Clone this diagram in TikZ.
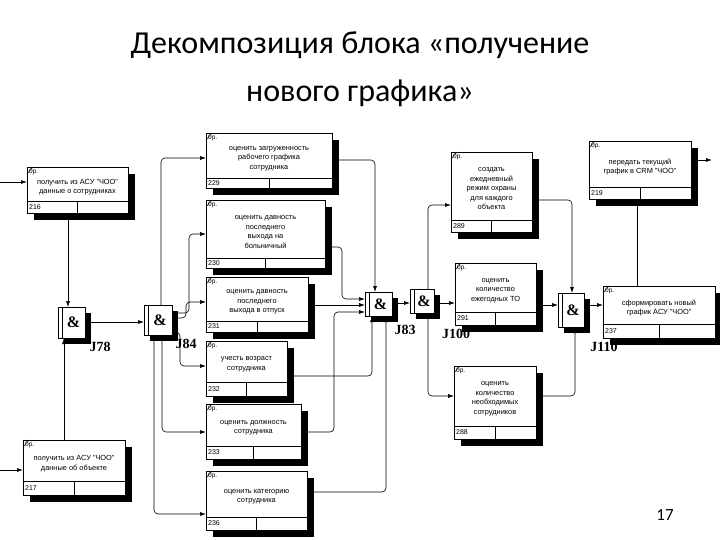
\documentclass[tikz,border=0pt]{standalone}
\usepackage{fontspec}
\setmainfont{Liberation Sans}
\newfontfamily\ttl{Carlito}
\newfontfamily\srf{Liberation Serif}
\usetikzlibrary{arrows.meta}
\newcommand\blk[8]{%
 \fill (#2+7,#3+7) rectangle (#4+7,#5+7);
 \node[draw,fill=white,line width=0.9pt,inner sep=0pt,minimum width={(#4-#2)*1pt},minimum height={(#5-#3)*1pt},anchor=north west] (#1) at (#2,#3) {};
 \draw[line width=0.6pt] (#2,#6) -- (#4,#6) ({(#2+#4)/2},#6) -- ({(#2+#4)/2},#5);
 \node[font=\fontsize{7}{8}\selectfont,anchor=west,inner sep=1pt] at (#2+1,{(#5+#6)/2}) {#8};
 \node[font=\fontsize{6.5}{7}\selectfont,anchor=north west,inner sep=1pt] at (#2+1,#3+1) {0р.};
 \draw[line width=0.5pt] (#2,#3+7) -- (#2+6,#3);
 \node[font=\fontsize{7.4}{9.5}\selectfont,align=center,inner sep=0pt] at ({(#2+#4)/2},{(#3+#6)/2+3}) {#7};}
\newcommand\jnc[5]{%
 \fill (#2+6,#3+6) rectangle (#4+6,#5+6);
 \node[draw,fill=white,line width=0.9pt,inner sep=0pt,minimum width={(#4-#2)*1pt},minimum height={(#5-#3)*1pt},anchor=north west] (#1) at (#2,#3) {};
 \draw[line width=0.6pt] (#2+4,#3) -- (#2+4,#5);
 \node[font=\srf\bfseries\fontsize{16}{16}\selectfont] at ({(#2+#4)/2+2},{(#3+#5)/2}) {\&};}
\tikzset{ar/.style={-{Latex[length=6pt,width=4pt]},line width=0.6pt,rounded corners=4pt},
 ln/.style={line width=0.6pt,rounded corners=4pt},
 jl/.style={font=\srf\bfseries\fontsize{14}{14}\selectfont}}
\begin{document}
\begin{tikzpicture}[x=1pt,y=-1pt]
\useasboundingbox (0,0) rectangle (720,540);
\node[font=\ttl\fontsize{32}{48}\selectfont,align=center] (title) at (360,69) {Декомпозиция блока «получение\\нового графика»};
\node[font=\ttl\fontsize{17}{17}\selectfont] (pg) at (665,515) {17};
\blk{b216}{27}{167}{128}{213}{201}{получить из АСУ "ЧОО"\\данные о сотрудниках}{216}
\blk{b217}{23}{440}{125}{495}{481}{получить из АСУ "ЧОО"\\данные об объекте}{217}
\blk{b229}{206}{133}{332}{188}{178}{оценить загруженность\\рабочего графика\\сотрудника}{229}
\blk{b230}{206}{200}{325}{268}{258}{оценить давность\\последнего\\выхода на\\больничный}{230}
\blk{b231}{206}{277}{308}{332}{321}{оценить давность\\последнего\\выхода в отпуск}{231}
\blk{b232}{206}{341}{287}{396}{382}{учесть возраст\\сотрудника}{232}
\blk{b233}{206}{404}{301}{459}{446}{оценить должность\\сотрудника}{233}
\blk{b236}{206}{471}{307}{530}{517}{оценить категорию\\сотрудника}{236}
\blk{b289}{451}{152}{532}{232}{220}{создать\\ежедневный\\режим охраны\\для каждого\\объекта}{289}
\blk{b291}{455}{263}{536}{325}{312}{оценить\\количество\\ежегодных ТО}{291}
\blk{b288}{454}{366}{536}{439}{426}{оценить\\количество\\необходимых\\сотрудников}{288}
\blk{b219}{589}{141}{691}{199}{187}{передать текущий\\график в CRM "ЧОО"}{219}
\blk{b237}{603}{286}{715}{338}{324}{сформировать новый\\график АСУ "ЧОО"}{237}
\jnc{j78}{58}{307}{85}{338}
\jnc{j84}{144}{305}{172}{335}
\jnc{j83}{365}{292}{392}{316}
\jnc{j100}{410}{289}{434}{313}
\jnc{j110}{558}{293}{584}{327}
\node[jl] (l78) at (100,347) {J78};
\node[jl] (l84) at (186,344) {J84};
\node[jl] (l83) at (405,330) {J83};
\node[jl] (l100) at (456,334) {J100};
\node[jl] (l110) at (604,347) {J110};
\coordinate (in1) at (0,182); \coordinate (in2) at (0,470); \coordinate (out1) at (712,160);
\draw[ar] (in1) -- (b216.west |- in1);
\draw[ar] (in2) -- (b217.west |- in2);
\draw[ar] (68,213) -- (68,307);
\draw[ar] (64,440) -- (64,338);
\draw[ar] (j78.east |- 0,322) -- (j84.west |- 0,322);
\draw[ar] (161,305) -- (161,158) -- (b229.west |- 0,158);
\draw[ar] (172,313) -- (189,313) -- (189,234) -- (b230.west |- 0,234);
\draw[ar] (172,318) -- (186,318) -- (186,302) -- (b231.west |- 0,302);
\draw[ar] (172,332) -- (180,332) -- (180,366) -- (b232.west |- 0,366);
\draw[ar] (162,335) -- (162,432) -- (b233.west |- 0,432);
\draw[ar] (154,335) -- (154,514) -- (b236.west |- 0,514);
\draw[ar] (b229.east |- 0,160) -- (375,160) -- (375,292);
\draw[ar] (b230.east |- 0,247) -- (342,247) -- (342,299) -- (j83.west |- 0,299);
\draw[ar] (b231.east |- 0,305) -- (j83.west |- 0,305);
\draw[ar] (b233.east |- 0,432) -- (334,432) -- (334,312) -- (j83.west |- 0,312);
\draw[ar] (b232.east |- 0,376) -- (372,376) -- (372,316);
\draw[ar] (b236.east |- 0,492) -- (386,492) -- (386,316);
\draw[ar] (j83.east |- 0,303) -- (j100.west |- 0,303);
\draw[ar] (428,289) -- (428,205) -- (b289.west |- 0,205);
\draw[ar] (j100.east |- 0,303) -- (b291.west |- 0,303);
\draw[ar] (428,313) -- (428,396) -- (b288.west |- 0,396);
\draw[ar] (b289.east |- 0,200) -- (572,200) -- (572,293);
\draw[ar] (b291.east |- 0,305) -- (j110.west |- 0,305);
\draw[ar] (b288.east |- 0,396) -- (575,396) -- (575,327);
\draw[ar] (j110.east |- 0,305) -- (b237.west |- 0,305);
\draw[ln] (637,286) -- (637,199);
\draw[ar] (b219.east |- out1) -- (out1);
\end{tikzpicture}
\end{document}
